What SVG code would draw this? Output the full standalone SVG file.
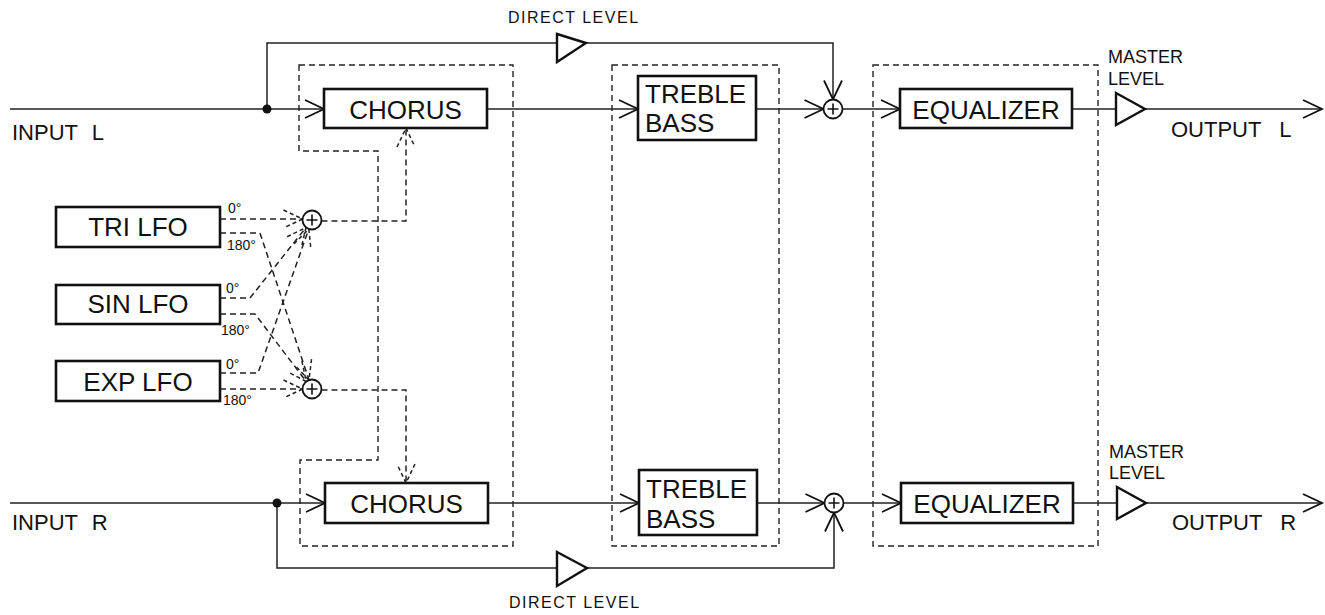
<svg xmlns="http://www.w3.org/2000/svg" width="1325" height="615" viewBox="0 0 1325 615">
<style>
text{font-family:"Liberation Sans",Arial,Helvetica,sans-serif;fill:#111}
.box{fill:#fff;stroke:#111;stroke-width:2.6}
.reg{fill:none;stroke:#222;stroke-width:1.4;stroke-dasharray:6,4}
.ln{fill:none;stroke:#222;stroke-width:1.5}
.dl{fill:none;stroke:#222;stroke-width:1.5;stroke-dasharray:6,4}
.amp{fill:#fff;stroke:#111;stroke-width:2.4;stroke-linejoin:miter}
.sum{fill:#fff;stroke:#111;stroke-width:1.8}
.big{font-size:26px}
.lbl{font-size:22px}
.sm{font-size:14px}
.dir{font-size:16px;letter-spacing:1.5px}
.mst{font-size:18px}
</style>
<defs>
<marker id="arr" markerUnits="userSpaceOnUse" markerWidth="24" markerHeight="22" refX="19" refY="9" orient="auto" overflow="visible">
<path d="M0,0 L19,9 L0,18" fill="none" stroke="#111" stroke-width="1.8"/>
</marker>
<marker id="darr" markerUnits="userSpaceOnUse" markerWidth="24" markerHeight="22" refX="19" refY="9" orient="auto" overflow="visible">
<path d="M0,0 L19,9 L0,18" fill="none" stroke="#222" stroke-width="1.5" stroke-dasharray="4,3"/>
</marker>
<g id="sumsym">
<circle class="sum" cx="0" cy="0" r="9.5"/>
<path d="M-5.5,0 H5.5 M0,-5.5 V5.5" stroke="#111" stroke-width="1.6"/>
</g>
</defs>

<g id="regions">
<path id="region-chorus" class="reg" d="M299,65 H513 V546 H300 V460 H378 V151 H299 Z"/>
<rect id="region-tone" class="reg" x="612" y="65" width="167" height="481"/>
<rect id="region-eq" class="reg" x="873" y="65" width="225" height="481"/>
</g>

<g id="connectors">
<!-- L channel -->
<path class="ln" d="M10,109 H324" marker-end="url(#arr)"/>
<path class="ln" d="M267,109 V43 H556"/>
<path class="ln" d="M587,43 H833 V99.5" marker-end="url(#arr)"/>
<path class="ln" d="M487,109 H638" marker-end="url(#arr)"/>
<path class="ln" d="M756,109 H823.5" marker-end="url(#arr)"/>
<path class="ln" d="M842.5,109 H900" marker-end="url(#arr)"/>
<path class="ln" d="M1072,109 H1116"/>
<path class="ln" d="M1145,109 H1322" marker-end="url(#arr)"/>
<!-- R channel -->
<path class="ln" d="M10,503 H325" marker-end="url(#arr)"/>
<path class="ln" d="M277,503 V568 H557"/>
<path class="ln" d="M587,568 H834 V512.5" marker-end="url(#arr)"/>
<path class="ln" d="M488,503 H639" marker-end="url(#arr)"/>
<path class="ln" d="M757,503 H824.5" marker-end="url(#arr)"/>
<path class="ln" d="M843.5,503 H901" marker-end="url(#arr)"/>
<path class="ln" d="M1073,503 H1117"/>
<path class="ln" d="M1146,503 H1322" marker-end="url(#arr)"/>
<!-- LFO modulation -->
<path class="dl" d="M220,219 H302.5" marker-end="url(#darr)"/>
<path class="dl" d="M220,298 H250 L306,227.5" marker-end="url(#darr)"/>
<path class="dl" d="M220,373 H258 L308.8,229" marker-end="url(#darr)"/>
<path class="dl" d="M220,233 H260 L309,380" marker-end="url(#darr)"/>
<path class="dl" d="M220,314 H255 L306.2,381.5" marker-end="url(#darr)"/>
<path class="dl" d="M220,389 H302.5" marker-end="url(#darr)"/>
<path class="dl" d="M321.5,221 H406 V128" marker-end="url(#darr)"/>
<path class="dl" d="M321.5,390 H406 V483" marker-end="url(#darr)"/>
<circle cx="267" cy="109" r="4.5" fill="#111"/>
<circle cx="277" cy="503" r="4.5" fill="#111"/>
</g>

<g id="input-l"><text class="lbl" x="12" y="140" word-spacing="8">INPUT L</text></g>
<g id="input-r"><text class="lbl" x="12" y="530" word-spacing="8">INPUT R</text></g>

<g id="chorus-l"><rect class="box" x="324" y="89" width="163" height="39"/><text class="big" x="405.5" y="119" text-anchor="middle">CHORUS</text></g>
<g id="chorus-r"><rect class="box" x="325" y="483" width="163" height="40"/><text class="big" x="406.5" y="513" text-anchor="middle">CHORUS</text></g>

<g id="tri-lfo"><rect class="box" x="56" y="207" width="164" height="40"/><text class="big" x="138" y="236" text-anchor="middle">TRI LFO</text>
<text class="sm" x="228" y="213">0°</text><text class="sm" x="227" y="250">180°</text></g>
<g id="sin-lfo"><rect class="box" x="56" y="285" width="164" height="39"/><text class="big" x="138" y="313" text-anchor="middle">SIN LFO</text>
<text class="sm" x="226" y="293">0°</text><text class="sm" x="221" y="335">180°</text></g>
<g id="exp-lfo"><rect class="box" x="56" y="361" width="164" height="40"/><text class="big" x="138" y="391" text-anchor="middle">EXP LFO</text>
<text class="sm" x="226" y="369">0°</text><text class="sm" x="223" y="405">180°</text></g>

<g id="sum-mod-l"><use href="#sumsym" x="312" y="220"/></g>
<g id="sum-mod-r"><use href="#sumsym" x="312" y="389"/></g>

<g id="direct-level-l"><polygon class="amp" points="557,34 586,43 557,62"/><text class="dir" x="508" y="23">DIRECT LEVEL</text></g>
<g id="direct-level-r"><polygon class="amp" points="557,552 587,568 557,586"/><text class="dir" x="509" y="608">DIRECT LEVEL</text></g>

<g id="tone-l"><rect class="box" x="638" y="76" width="118" height="64"/><text class="big" x="645" y="103">TREBLE</text><text class="big" x="645" y="132">BASS</text></g>
<g id="tone-r"><rect class="box" x="639" y="470" width="118" height="65"/><text class="big" x="646" y="498">TREBLE</text><text class="big" x="646" y="528">BASS</text></g>

<g id="sum-l"><use href="#sumsym" x="833" y="109"/></g>
<g id="sum-r"><use href="#sumsym" x="834" y="503"/></g>

<g id="eq-l"><rect class="box" x="900" y="89" width="172" height="39"/><text class="big" x="986" y="119" text-anchor="middle">EQUALIZER</text></g>
<g id="eq-r"><rect class="box" x="901" y="483" width="172" height="40"/><text class="big" x="987" y="513" text-anchor="middle">EQUALIZER</text></g>

<g id="master-l"><polygon class="amp" points="1116,93 1145,109 1116,125"/><text class="mst" x="1108" y="63">MASTER</text><text class="mst" x="1108" y="85">LEVEL</text></g>
<g id="master-r"><polygon class="amp" points="1117,487 1146,503 1117,519"/><text class="mst" x="1109" y="458">MASTER</text><text class="mst" x="1109" y="479">LEVEL</text></g>

<g id="output-l"><text class="lbl" x="1171" y="137" word-spacing="12">OUTPUT L</text></g>
<g id="output-r"><text class="lbl" x="1172" y="530" word-spacing="12">OUTPUT R</text></g>
</svg>
